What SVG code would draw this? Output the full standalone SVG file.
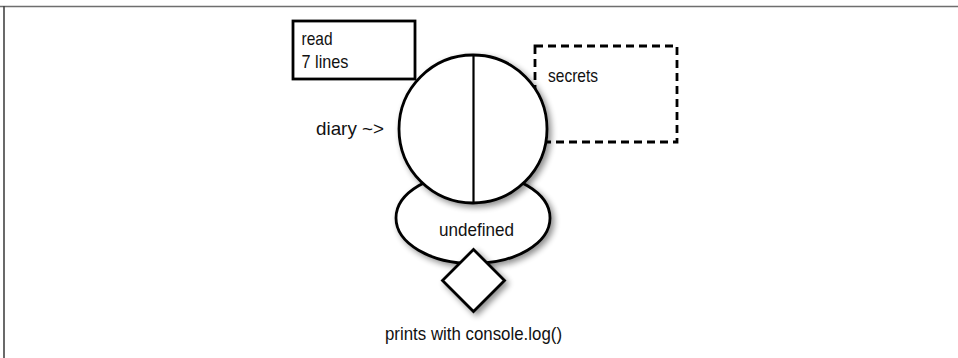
<svg xmlns="http://www.w3.org/2000/svg" width="958" height="358" viewBox="0 0 958 358">
<defs>
<filter id="sh" x="-30%" y="-30%" width="160%" height="160%">
<feGaussianBlur in="SourceAlpha" stdDeviation="3"/>
<feOffset dx="3" dy="3" result="b"/>
<feComponentTransfer><feFuncA type="linear" slope="0.45"/></feComponentTransfer>
<feMerge><feMergeNode/><feMergeNode in="SourceGraphic"/></feMerge>
</filter>
<style>
.s{fill:#fff;stroke:#000;stroke-width:2.8}
.t{font-family:"Liberation Sans Narrow","Liberation Sans",Arial,sans-serif;font-size:19px;fill:#111}
</style>
</defs>
<rect width="958" height="358" fill="#fff"/>
<line x1="0" y1="6.5" x2="958" y2="6.5" stroke="#6e6e6e" stroke-width="1.6"/>
<line x1="4" y1="6" x2="4" y2="358" stroke="#444" stroke-width="1.6"/>
<g id="secrets">
<rect x="535" y="46" width="142" height="96" fill="none" stroke="#000" stroke-width="2.8" stroke-dasharray="8,5"/>
<text class="t" x="548" y="82" textLength="50" lengthAdjust="spacingAndGlyphs">secrets</text>
</g>
<g id="undefined">
<ellipse class="s" cx="473" cy="218" rx="77" ry="45.5" filter="url(#sh)"/>
<text class="t" x="476.5" y="236" text-anchor="middle" textLength="75" lengthAdjust="spacingAndGlyphs">undefined</text>
</g>
<g id="diary">
<circle class="s" cx="473" cy="129" r="74" filter="url(#sh)"/>
<line x1="473.5" y1="55" x2="473.5" y2="203" stroke="#000" stroke-width="2.2"/>
<text class="t" x="316" y="135" textLength="68" lengthAdjust="spacingAndGlyphs">diary ~&gt;</text>
</g>
<g id="read">
<rect class="s" x="293" y="21" width="122" height="58"/>
<text class="t" x="301.5" y="45" textLength="31" lengthAdjust="spacingAndGlyphs">read</text>
<text class="t" x="301.5" y="68" textLength="47" lengthAdjust="spacingAndGlyphs">7 lines</text>
</g>
<g id="print">
<polygon class="s" points="473.5,249.5 504.5,280.5 473.5,311.5 442.5,280.5" filter="url(#sh)"/>
<text class="t" x="385" y="340" textLength="177" lengthAdjust="spacingAndGlyphs">prints with console.log()</text>
</g>
<g id="connectors"></g>
</svg>
